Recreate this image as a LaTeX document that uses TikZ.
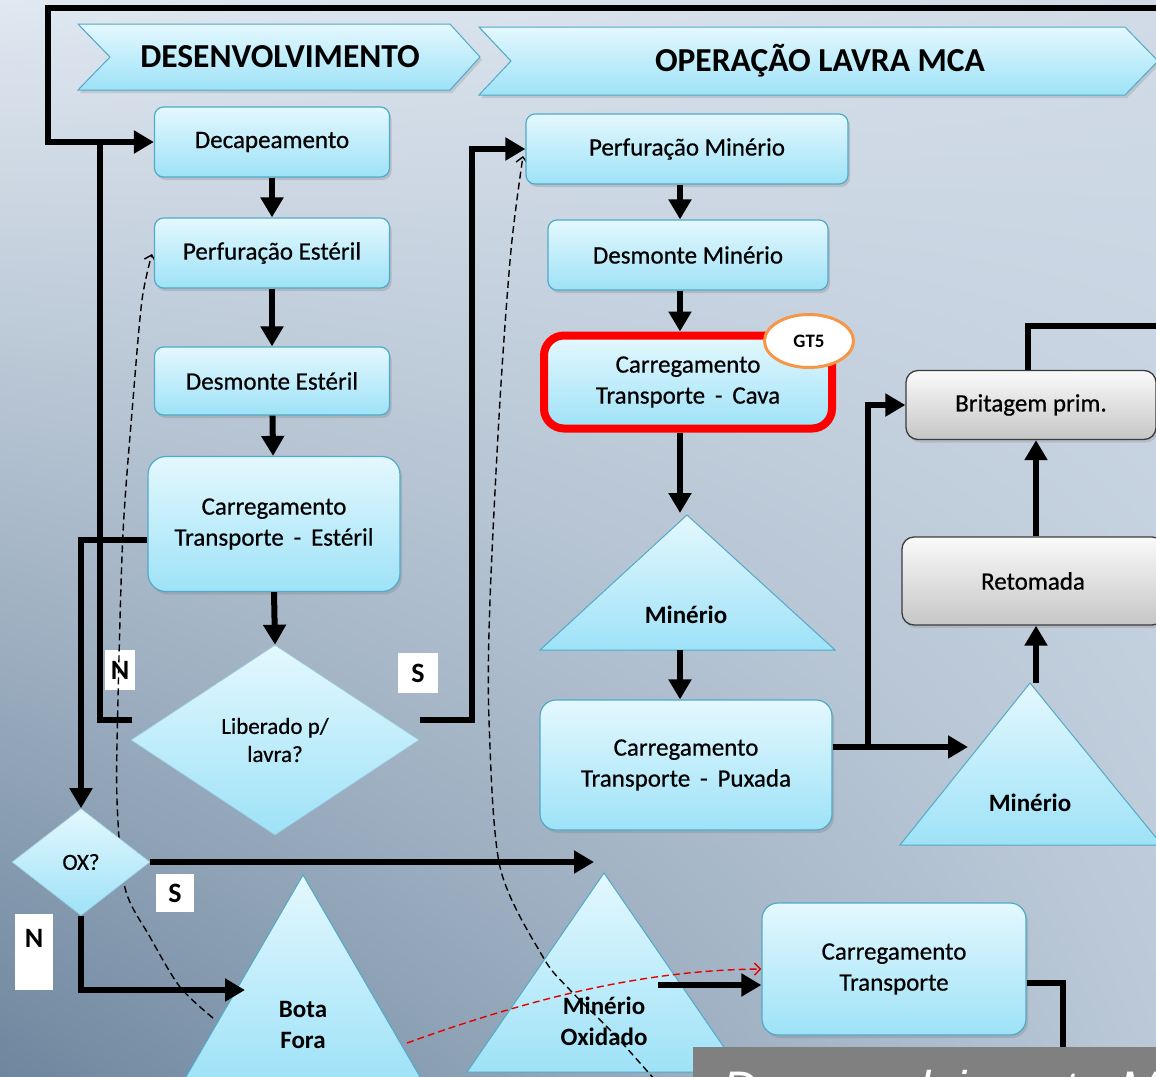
\documentclass[tikz,border=0pt]{standalone}
\usepackage{fontspec}
\setmainfont{Carlito}
\newfontfamily\medfont{Carlito}[FakeBold=0.6]
\newfontfamily\barfont{Liberation Sans}
\usetikzlibrary{shapes.geometric,arrows.meta,shadows,shadings,calc}
\definecolor{bgUL}{RGB}{224,232,241}
\definecolor{bgUR}{RGB}{208,219,231}
\definecolor{bgLL}{RGB}{110,134,158}
\definecolor{bgLR}{RGB}{186,200,215}
\definecolor{boxtop}{RGB}{228,248,254}
\definecolor{boxbot}{RGB}{158,226,247}
\definecolor{boxline}{RGB}{80,170,200}
\definecolor{graytop}{RGB}{250,250,250}
\definecolor{graybot}{RGB}{198,198,198}
\definecolor{grayline}{RGB}{60,60,60}
\definecolor{gtorange}{RGB}{247,150,70}
\definecolor{cavared}{RGB}{255,0,0}
\definecolor{barfill}{RGB}{128,128,128}
\pgfdeclarelayer{lzero}
\pgfdeclarelayer{lone}
\pgfdeclarelayer{ltwo}
\pgfdeclarelayer{ltop}
\pgfsetlayers{lzero,lone,ltwo,main,ltop}
\tikzset{
  bx/.style={draw=boxline, line width=1.2pt, rounded corners=9pt, top color=boxtop, bottom color=boxbot,
    align=center, inner sep=0pt, font=\medfont\fontsize{25}{31}\selectfont,
    drop shadow={opacity=0.3, shadow xshift=2pt, shadow yshift=-3pt}},
  gbx/.style={draw=grayline, line width=1.3pt, rounded corners=12pt, top color=graytop, bottom color=graybot,
    align=center, inner sep=0pt, font=\medfont\fontsize{25}{31}\selectfont,
    drop shadow={opacity=0.25, shadow xshift=2pt, shadow yshift=-3pt}},
  dia/.style={diamond, draw=boxline!60, line width=0.6pt, top color=boxtop, bottom color=boxbot,
    inner sep=0pt, align=center, font=\medfont\fontsize{23}{28}\selectfont},
  tri/.style={draw=boxline, line width=1pt, top color=boxtop, bottom color=boxbot},
  tritxt/.style={align=center, inner sep=0pt, font=\bfseries\fontsize{25}{31}\selectfont},
  banner/.style={draw=boxline, line width=1pt, top color=boxtop, bottom color=boxbot,
    drop shadow={opacity=0.25, shadow xshift=2pt, shadow yshift=-3pt}},
  hdr/.style={inner sep=0pt, font=\bfseries\fontsize{33.5}{38}\selectfont},
  lbl/.style={fill=white, inner sep=0pt, font=\bfseries\fontsize{28}{30}\selectfont},
  conn/.style={draw=black, line width=6pt, -{Triangle[length=20pt,width=22pt]}},
  thk/.style={draw=black, line width=6pt},
  dsh/.style={draw=black, line width=1.4pt, dash pattern=on 7pt off 4pt, -{Straight Barb[length=6pt,width=12pt]}},
  rdsh/.style={draw=red!90!black, line width=1.4pt, dash pattern=on 7pt off 4pt, -{Straight Barb[length=6pt,width=12pt]}},
}
\begin{document}
\begin{tikzpicture}[x=1pt,y=-1pt]
\useasboundingbox (0,0) rectangle (1156,1076);
\begin{pgfonlayer}{lzero}
\shade[upper left=bgUL, upper right=bgUR, lower left=bgLL, lower right=bgLR] (0,0) rectangle (1156,1076);
\end{pgfonlayer}

% ---------- banners
\path[banner] (78,24) -- (450,24) -- (480,57) -- (450,90) -- (78,90) -- (110,57) -- cycle;
\node[hdr] (hdev) at (280,57) {DESENVOLVIMENTO};
\path[banner] (479,27) -- (1125,27) -- (1158,61) -- (1125,95) -- (479,95) -- (511,61) -- cycle;
\node[hdr] (hop) at (820,61) {OPERAÇÃO LAVRA MCA};

% ---------- labels and triangles
\begin{pgfonlayer}{lone}
\node[lbl, minimum width=30pt, minimum height=40pt] (n1) at (120,670) {N};
\node[lbl, minimum width=40pt, minimum height=40pt] (s1) at (418,673) {S};
\node[lbl, minimum width=38pt, minimum height=38pt] (s2) at (175,893) {S};
\node[lbl, minimum width=38pt, minimum height=76pt, text depth=28pt] (n2) at (34,952) {N};
\path[tri] (303,875) -- (423,1082) -- (183,1082) -- cycle;
\node[tritxt] (bota) at (303,1025) {Bota\\Fora};
\path[tri] (604,873) -- (741,1072) -- (467,1072) -- cycle;
\node[tritxt] (oxid) at (604,1021) {Minério\\Oxidado};
\path[tri] (687,515) -- (835,650) -- (540,650) -- cycle;
\node[tritxt] (min1) at (686,615) {Minério};
\path[tri] (1030,683) -- (1162,845) -- (900,845) -- cycle;
\node[tritxt] (min2) at (1030,803) {Minério};
\end{pgfonlayer}

\coordinate (t1apex) at (680,513);
\coordinate (t1base) at (680,650);
\coordinate (t2apex) at (1036,683);
\coordinate (botaIn) at (245,990);
\coordinate (oxidIn) at (594,862);
\coordinate (oxidOut) at (658,985);
\coordinate (botaRed) at (407,1043);
\coordinate (min2In) at (968,747);
\coordinate (brJ) at (868,747);
\coordinate (topR) at (1160,8);
\coordinate (topL) at (48,8);
\coordinate (nStart) at (132,720);
\coordinate (nCol) at (100,720);
\coordinate (sStart) at (420,720);
\coordinate (sCol) at (472,720);
\coordinate (colx) at (680,0);
\coordinate (colr) at (1036,0);
\coordinate (colb) at (1028,0);
\coordinate (britOut) at (1160,326);
\coordinate (ctbDown) at (1063,1080);

% ---------- boxes
\node[bx, minimum width=235pt, minimum height=70pt] (decap) at (272,142) {Decapeamento};
\node[bx, minimum width=235pt, minimum height=70pt] (perfe) at (272,253) {Perfuração Estéril};
\node[bx, minimum width=235pt, minimum height=68pt] (desme) at (272,381) {Desmonte Estéril};
\node[bx, minimum width=252pt, minimum height=135pt, rounded corners=18pt] (carre) at (274,524) {Carregamento\\Transporte \,-\, Estéril};
\node[dia, minimum width=288pt, minimum height=190pt] (lib) at (275,740) {Liberado p/\\lavra?};
\node[dia, minimum width=138pt, minimum height=107pt] (ox) at (81,862) {OX?};

\node[bx, minimum width=322pt, minimum height=70pt] (perfm) at (687,149) {Perfuração Minério};
\node[bx, minimum width=280pt, minimum height=70pt] (desmm) at (688,255) {Desmonte Minério};
\node[bx, draw=cavared, line width=8pt, rounded corners=20pt, minimum width=288pt, minimum height=93pt] (cava) at (688,382) {Carregamento\\Transporte \,-\, Cava};
\node[ellipse, draw=gtorange, line width=3pt, fill=white, minimum width=89pt, minimum height=53pt, inner sep=0pt, font=\bfseries\fontsize{19}{20}\selectfont] (gt) at (809,341) {GT5};
\node[bx, minimum width=292pt, minimum height=130pt, rounded corners=16pt] (pux) at (686,765) {Carregamento\\Transporte \,-\, Puxada};
\node[gbx, minimum width=250pt, minimum height=69pt] (brit) at (1031,405) {Britagem prim.};
\node[gbx, minimum width=262pt, minimum height=88pt] (ret) at (1033,581) {Retomada};
\node[bx, minimum width=264pt, minimum height=132pt, rounded corners=16pt] (ctb) at (894,969) {Carregamento\\Transporte};

% ---------- dashed annotations
\begin{pgfonlayer}{ltwo}
\draw[dsh] plot[smooth] coordinates {(213,1018) (180,987) (150,937) (125,888) (117,800) (118,700) (123,533) (133,400) (142,300) (152,254)};
\draw[dsh] plot[smooth] coordinates {(655,1080) (613,1033) (570,990) (543,957) (500,867) (489,720) (490,600) (500,400) (511,250) (523,156)};
\draw[rdsh] (botaRed) .. controls (540,995) and (650,970) .. (ctb.west);
\end{pgfonlayer}

% ---------- connectors
\draw[conn] (topR) -- (topL) |- (decap.west);
\draw[thk] (nStart) -- (nCol) -- (nCol |- decap.west);
\draw[conn] (decap) -- (perfe);
\draw[conn] (perfe) -- (desme);
\draw[conn] (desme) -- (carre);
\draw[conn] (carre.south) -- (lib.north);
\draw[conn] (sStart) -- (sCol) |- (perfm.west);
\draw[conn] ($(carre.west)+(0,16)$) -| (ox.north);
\draw[conn] (ox.east) -- (oxidIn);
\draw[conn] (ox.south) |- (botaIn);
\draw[conn] (oxidOut) -- (oxidOut -| ctb.west);
\draw[thk] ($(ctb.east)+(0,14)$) -| (ctbDown);
\draw[conn] (perfm.south -| colx) -- (desmm.north -| colx);
\draw[conn] (desmm.south -| colx) -- (cava.north -| colx);
\draw[conn] (cava.south -| colx) -- (t1apex);
\draw[conn] (t1base) -- (pux.north -| colx);
\draw[conn] ($(pux.east)+(0,-18)$) -- (min2In);
\draw[conn] (brJ) |- (brit.west);
\draw[conn] (t2apex) -- (ret.south -| colr);
\draw[conn] (ret.north -| colr) -- (brit.south -| colr);
\draw[thk] (brit.north -| colb) |- (britOut);

% ---------- bottom bar
\begin{pgfonlayer}{ltop}
\fill[barfill] (693,1047) rectangle (1160,1082);
\node[anchor=base west, inner sep=0pt, text=white, font=\barfont\itshape\fontsize{50}{55}\selectfont] (bartxt) at (722,1106) {Desenvolvimento Mina F};
\end{pgfonlayer}
\end{tikzpicture}
\end{document}
